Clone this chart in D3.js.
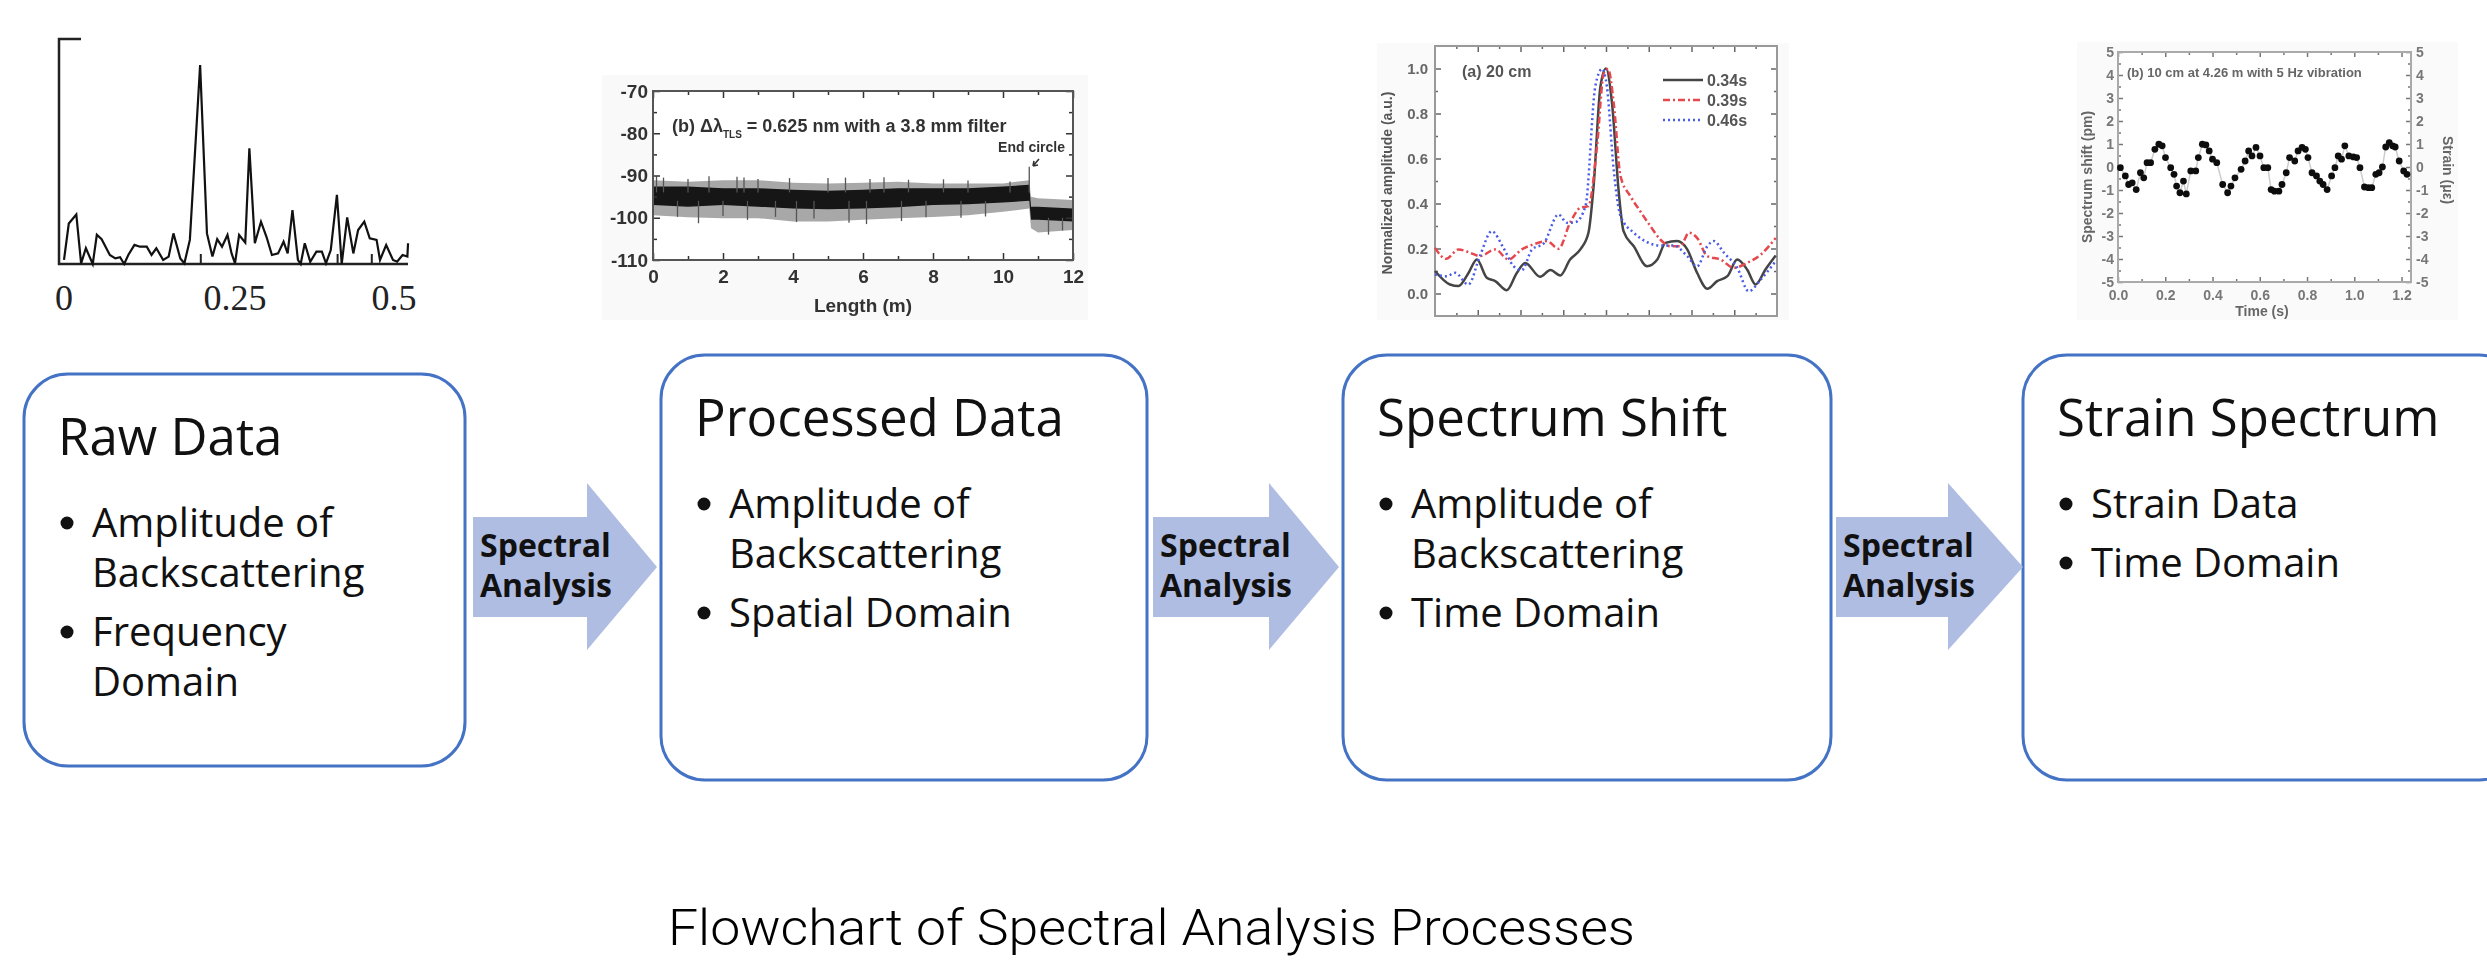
<!DOCTYPE html>
<html>
<head>
<meta charset="utf-8">
<script src="https://cdn.jsdelivr.net/npm/d3@7"></script>
<style>
  body { margin: 0; background: #fff; }
  svg { display: block; }
</style>
</head>
<body>
<div class="flow"></div>
<script>
// ---------- data ----------
// panel 1: raw spectrum, [frequency, relative amplitude]
var rawSpectrum = [[0,0.018],[0.007,0.18],[0.018,0.22],[0.025,0.003],[0.032,0.07],[0.042,0],[0.048,0.13],
  [0.055,0.11],[0.067,0.04],[0.075,0.025],[0.082,0.03],[0.088,0],[0.094,0.04],[0.103,0.085],[0.111,0.077],
  [0.121,0.077],[0.128,0.04],[0.135,0.07],[0.145,0.018],[0.153,0.033],[0.16,0.136],[0.17,0.025],[0.176,0.003],
  [0.184,0.107],[0.199,0.884],[0.209,0.136],[0.217,0.033],[0.224,0.11],[0.231,0.077],[0.239,0.129],[0.245,0.047],
  [0.25,0.003],[0.256,0.129],[0.265,0.095],[0.271,0.514],[0.279,0.092],[0.288,0.188],[0.296,0.121],[0.304,0.04],
  [0.313,0.047],[0.321,0.099],[0.327,0.047],[0.334,0.24],[0.342,0.018],[0.346,0],[0.352,0.092],[0.36,0.01],
  [0.369,0.055],[0.377,0.055],[0.383,0.003],[0.39,0.062],[0.399,0.307],[0.406,0],[0.414,0.207],[0.423,0.047],
  [0.43,0.151],[0.439,0.188],[0.447,0.114],[0.457,0.107],[0.462,0.018],[0.471,0.084],[0.481,0.018],[0.487,0.01],
  [0.495,0.04],[0.502,0.033],[0.503,0.092]];
var rawTickLabels = [0, 0.25, 0.5];
var rawMinorTicks = [0.2, 0.4, 0.45];

// panel 2: backscatter trace envelope (dB) along length (m)
var lenX     = [0, 1, 2, 3, 4, 5, 6, 7, 8, 9, 10, 10.75, 10.8, 11, 12];
var coreHi   = [-92.6,-92.6,-93.0,-93.0,-93.4,-93.6,-93.4,-93.0,-93.0,-93.0,-92.6,-92.2,-97.4,-97.4,-97.8];
var coreLo   = [-97.0,-97.4,-97.0,-97.4,-97.8,-98.0,-97.8,-97.5,-97.0,-96.8,-96.4,-96.0,-100.5,-100.5,-100.9];
var outerHi  = [-91.1,-91.5,-91.1,-91.1,-91.7,-91.9,-91.7,-91.5,-91.9,-91.9,-91.9,-91.1,-95.0,-95.4,-95.8];
var outerLo  = [-99.4,-99.9,-100.1,-100.1,-100.9,-100.9,-100.5,-100.1,-99.8,-99.4,-98.6,-97.8,-102.5,-103.5,-102.9];
var spikeX   = [0.1, 0.3, 0.7, 1.0, 1.3, 1.6, 2.0, 2.4, 2.6, 2.7, 3.0, 3.5, 3.9, 4.1, 4.6, 5.0, 5.5, 5.6,
  6.1, 6.2, 6.6, 7.1, 7.3, 7.8, 8.3, 8.8, 9.0, 9.5, 10.2, 10.75, 11.3, 11.7];
var spikeV   = [-90.2,-90.5,-99.8,-90.8,-101.3,-90.2,-99.6,-90.3,-90.5,-100.5,-90.8,-99.8,-90.6,-101,-100.2,
  -90.6,-90.5,-101.2,-101.5,-90.8,-90.4,-100.8,-91,-99.9,-90.9,-100,-91.2,-99.7,-91.4,-87.9,-104,-103];

// panel 3: normalized amplitude, [position, amplitude]
var shiftSeries = ["0.34s", "0.39s", "0.46s"];
var amp034 = [[0,0.10],[0.35,0.04],[0.55,0.033],[0.78,0.09],[0.98,0.151],[1.21,0.07],[1.41,0.055],[1.68,0.015],
  [1.91,0.09],[2.11,0.136],[2.46,0.074],[2.7,0.104],[2.93,0.08],[3.16,0.151],[3.4,0.196],[3.59,0.27],[3.71,0.477],
  [3.87,0.92],[4.0,1.0],[4.14,0.847],[4.3,0.447],[4.41,0.277],[4.65,0.21],[4.96,0.121],[5.2,0.151],[5.39,0.225],
  [5.66,0.233],[5.9,0.196],[6.13,0.092],[6.37,0.021],[6.6,0.055],[6.84,0.077],[7.07,0.151],[7.3,0.107],[7.5,0.04],
  [7.73,0.107],[7.97,0.169]];
var amp039 = [[0,0.203],[0.26,0.154],[0.55,0.196],[0.82,0.181],[1.05,0.166],[1.41,0.196],[1.72,0.151],[2.03,0.196],
  [2.3,0.218],[2.62,0.233],[2.89,0.199],[3.16,0.314],[3.4,0.381],[3.59,0.388],[3.79,0.655],[3.95,0.98],[4.05,0.998],
  [4.18,0.847],[4.34,0.521],[4.57,0.433],[4.8,0.366],[5.04,0.299],[5.27,0.24],[5.51,0.21],[5.74,0.21],[5.94,0.27],
  [6.13,0.247],[6.37,0.166],[6.68,0.151],[6.99,0.114],[7.3,0.136],[7.62,0.173],[7.97,0.247]];
var amp046 = [[0,0.084],[0.27,0.077],[0.47,0.092],[0.78,0.04],[1.05,0.166],[1.33,0.277],[1.6,0.203],[1.84,0.121],
  [2.03,0.104],[2.27,0.196],[2.54,0.222],[2.89,0.351],[3.09,0.314],[3.28,0.317],[3.52,0.388],[3.75,0.921],
  [3.91,0.998],[4.02,0.921],[4.18,0.551],[4.34,0.344],[4.65,0.27],[4.96,0.228],[5.27,0.213],[5.59,0.213],
  [5.9,0.166],[6.13,0.121],[6.37,0.21],[6.52,0.233],[6.76,0.181],[7.07,0.114],[7.34,0.01],[7.62,0.062],[7.97,0.144]];

// panel 4: spectrum shift (pm) over time (s)
var shiftPoints = [[0.010,-0.03],[0.031,-0.39],[0.045,-0.76],[0.060,-0.69],[0.077,-0.98],[0.095,-0.25],[0.109,-0.47],
  [0.123,0.19],[0.138,0.19],[0.156,0.77],[0.173,0.99],[0.187,0.92],[0.201,0.41],[0.223,-0.03],[0.237,-0.32],
  [0.248,-0.83],[0.262,-1.12],[0.277,-0.61],[0.289,-1.17],[0.308,-0.17],[0.329,-0.17],[0.340,0.41],[0.357,0.99],
  [0.372,0.96],[0.386,0.70],[0.400,0.34],[0.418,0.19],[0.443,-0.76],[0.464,-1.12],[0.478,-0.83],[0.495,-0.47],
  [0.521,-0.10],[0.538,0.26],[0.553,0.70],[0.567,0.48],[0.584,0.85],[0.601,0.48],[0.617,-0.03],[0.634,-0.03],
  [0.648,-0.98],[0.662,-1.05],[0.681,-1.05],[0.694,-0.76],[0.712,-0.25],[0.726,0.41],[0.748,0.26],[0.762,0.70],
  [0.779,0.85],[0.793,0.77],[0.804,0.41],[0.821,-0.25],[0.840,-0.39],[0.854,-0.61],[0.868,-0.76],[0.885,-0.98],
  [0.904,-0.39],[0.918,-0.03],[0.932,0.48],[0.946,0.34],[0.960,0.92],[0.977,0.48],[0.996,0.44],[1.010,0.41],
  [1.024,-0.03],[1.043,-0.87],[1.060,-0.90],[1.074,-0.90],[1.091,-0.32],[1.105,-0.25],[1.119,0],[1.133,0.87],
  [1.148,1.06],[1.162,0.92],[1.173,0.87],[1.190,0.26],[1.209,-0.17],[1.223,-0.32]];

// flowchart text
var boxTitles = ["Raw Data", "Processed Data", "Spectrum Shift", "Strain Spectrum"];
var boxBullets = [
  [["Amplitude of", "Backscattering"], ["Frequency", "Domain"]],
  [["Amplitude of", "Backscattering"], ["Spatial Domain"]],
  [["Amplitude of", "Backscattering"], ["Time Domain"]],
  [["Strain Data"], ["Time Domain"]]
];
var arrowLabel = ["Spectral", "Analysis"];
var chartTitle = "Flowchart of Spectral Analysis Processes";

// ---------- drawing ----------
var width = 2487, height = 969;
var svg = d3.select(".flow").append("svg")
  .attr("width", width)
  .attr("height", height);

var defs = svg.append("defs");
defs.append("filter").attr("id", "soft")
  .append("feGaussianBlur").attr("stdDeviation", 0.6);

var figFont = "'Liberation Sans', Arial, sans-serif";
var boxFont = "'Open Sans', sans-serif";
var plain = function(d) { return String(d); };

// inward ticks on all four sides of a framed plot
function frameAxes(g, x, y, o) {
  var b = y.range()[0], t = y.range()[1];
  var l = x.range()[0], r = x.range()[1];
  function style(sel) {
    sel.select(".domain").remove();
    sel.selectAll("line").attr("stroke", o.color).attr("stroke-width", 1.5);
    sel.selectAll("text").attr("fill", o.color).style("font-family", figFont)
      .style("font-weight", "bold").style("font-size", o.fontSize + "px");
  }
  var none = function() { return ""; };
  // minor ticks
  g.append("g").attr("transform", "translate(0," + b + ")")
    .call(d3.axisBottom(x).tickValues(o.xMinor).tickSize(-o.minLen).tickFormat(none)).call(style);
  g.append("g").attr("transform", "translate(0," + t + ")")
    .call(d3.axisTop(x).tickValues(o.xMinor).tickSize(-o.minLen).tickFormat(none)).call(style);
  g.append("g").attr("transform", "translate(" + l + ",0)")
    .call(d3.axisLeft(y).tickValues(o.yMinor).tickSize(-o.minLen).tickFormat(none)).call(style);
  g.append("g").attr("transform", "translate(" + r + ",0)")
    .call(d3.axisRight(y).tickValues(o.yMinor).tickSize(-o.minLen).tickFormat(none)).call(style);
  // major ticks
  g.append("g").attr("transform", "translate(0," + b + ")")
    .call(d3.axisBottom(x).tickValues(o.xMajor).tickSize(-o.majLen).tickPadding(o.xPad)
      .tickFormat(o.xFmt || none)).call(style);
  g.append("g").attr("transform", "translate(0," + t + ")")
    .call(d3.axisTop(x).tickValues(o.xMajor).tickSize(-o.majLen).tickFormat(none)).call(style);
  g.append("g").attr("transform", "translate(" + l + ",0)")
    .call(d3.axisLeft(y).tickValues(o.yMajor).tickSize(-o.majLen).tickPadding(o.yPad)
      .tickFormat(o.yFmt || none)).call(style);
  g.append("g").attr("transform", "translate(" + r + ",0)")
    .call(d3.axisRight(y).tickValues(o.yMajor).tickSize(-o.majLen).tickPadding(o.yPad2 || 4)
      .tickFormat(o.yFmtRight || none)).call(style);
  g.append("rect").attr("x", l).attr("y", t).attr("width", r - l).attr("height", b - t)
    .attr("fill", "none").attr("stroke", o.frame).attr("stroke-width", o.frameWidth);
}

function rawChart() {
  var g = svg.append("g");
  var x = d3.scaleLinear().domain([0, 0.5]).range([64, 406]);
  var y = d3.scaleLinear().domain([0, 1]).range([264, 39]);

  g.append("path")
    .attr("d", "M" + (x(0) + 17) + "," + y(1) + "H" + (x(0) - 5) + "V" + y(0) + "H" + (x(0.5) + 2))
    .attr("fill", "none").attr("stroke", "#222").attr("stroke-width", 2.5);

  g.selectAll(".mt").data(rawMinorTicks).enter().append("line")
    .attr("x1", function(d) { return x(d); }).attr("x2", function(d) { return x(d); })
    .attr("y1", y(0)).attr("y2", y(0) - 10)
    .attr("stroke", "#222").attr("stroke-width", 2);

  g.append("path").datum(rawSpectrum)
    .attr("d", d3.line().x(function(d) { return x(d[0]); }).y(function(d) { return y(d[1]); }))
    .attr("fill", "none").attr("stroke", "#111").attr("stroke-width", 2.2)
    .attr("stroke-linejoin", "miter");

  g.selectAll(".tl").data(rawTickLabels).enter().append("text")
    .attr("x", function(d, i) { return x(d) - (i === 2 ? 12 : 0); })
    .attr("y", 310)
    .attr("text-anchor", "middle")
    .style("font-family", "'Liberation Serif', 'DejaVu Serif', serif")
    .style("font-size", "36px").attr("fill", "#222")
    .text(function(d) { return d; });
}

function processedChart() {
  var g = svg.append("g").attr("filter", "url(#soft)");
  g.append("rect").attr("x", 602).attr("y", 75).attr("width", 486).attr("height", 245).attr("fill", "#f9f9f9");
  var x = d3.scaleLinear().domain([0, 12]).range([653, 1073]);
  var y = d3.scaleLinear().domain([-110, -70]).range([260, 91]);
  g.append("rect").attr("x", 653).attr("y", 91).attr("width", 420).attr("height", 169).attr("fill", "#fff");

  var env = lenX.map(function(v, i) {
    return { x: v, ch: coreHi[i], cl: coreLo[i], oh: outerHi[i], ol: outerLo[i] };
  });
  g.append("path").datum(env)
    .attr("d", d3.area().x(function(d) { return x(d.x); })
      .y0(function(d) { return y(d.ol); }).y1(function(d) { return y(d.oh); }))
    .attr("fill", "#a8a8a8");
  g.append("path").datum(env)
    .attr("d", d3.area().x(function(d) { return x(d.x); })
      .y0(function(d) { return y(d.cl); }).y1(function(d) { return y(d.ch); }))
    .attr("fill", "#151515");
  g.selectAll(".sp").data(spikeX).enter().append("line")
    .attr("x1", function(d) { return x(d); }).attr("x2", function(d) { return x(d); })
    .attr("y1", function(d, i) { return y(spikeV[i] > -95 ? -94 : (d > 10.8 ? -100 : -96)); })
    .attr("y2", function(d, i) { return y(spikeV[i]); })
    .attr("stroke", "#555").attr("stroke-width", 1.3);

  frameAxes(g, x, y, {
    xMajor: d3.range(0, 13, 2), xMinor: d3.range(1, 12, 2),
    yMajor: d3.range(-110, -69, 10), yMinor: d3.range(-105, -70, 10),
    xFmt: plain, yFmt: plain,
    majLen: 7, minLen: 4, xPad: 10, yPad: 5,
    color: "#333", fontSize: 19, frame: "#555", frameWidth: 2
  });

  g.append("text").attr("x", 863).attr("y", 312).attr("text-anchor", "middle")
    .style("font-family", figFont).style("font-weight", "bold").style("font-size", "19px")
    .attr("fill", "#333").text("Length (m)");

  var ann = g.append("text").attr("x", 672).attr("y", 132)
    .style("font-family", figFont).style("font-weight", "bold").style("font-size", "18px").attr("fill", "#333");
  ann.append("tspan").text("(b) \u0394\u03bb");
  ann.append("tspan").attr("dy", 6).style("font-size", "10px").text("TLS");
  ann.append("tspan").attr("dy", -6).text(" = 0.625 nm with a 3.8 mm filter");

  g.append("text").attr("x", 1065).attr("y", 152).attr("text-anchor", "end")
    .style("font-family", figFont).style("font-weight", "bold").style("font-size", "14px")
    .attr("fill", "#333").text("End circle");
  g.append("path").attr("d", "M1039,159 L1033,166 M1033,166 l1,-5 M1033,166 l5,-1")
    .attr("stroke", "#333").attr("stroke-width", 1.6).attr("fill", "none");
}

function shiftChart() {
  var g = svg.append("g").attr("filter", "url(#soft)");
  g.append("rect").attr("x", 1377).attr("y", 43).attr("width", 412).attr("height", 277).attr("fill", "#fafafa");
  var x = d3.scaleLinear().domain([0, 8]).range([1435, 1777]);
  var y = d3.scaleLinear().domain([-0.1, 1.1]).range([316, 46]);
  g.append("rect").attr("x", 1435).attr("y", 46).attr("width", 342).attr("height", 270).attr("fill", "#fff");

  frameAxes(g, x, y, {
    xMajor: d3.range(1, 8), xMinor: d3.range(0.5, 8, 1),
    yMajor: [0, 0.2, 0.4, 0.6, 0.8, 1.0], yMinor: [0.1, 0.3, 0.5, 0.7, 0.9],
    yFmt: d3.format(".1f"),
    majLen: 6, minLen: 3, xPad: 8, yPad: 7,
    color: "#666", fontSize: 15, frame: "#999", frameWidth: 2
  });

  var styles = [
    { stroke: "#444", dash: null },
    { stroke: "#e5484d", dash: "7,3,2,3" },
    { stroke: "#4a5be8", dash: "2,3" }
  ];
  var line = d3.line().curve(d3.curveMonotoneX)
    .x(function(d) { return x(d[0]); }).y(function(d) { return y(d[1]); });
  [amp034, amp039, amp046].forEach(function(s, i) {
    g.append("path").datum(s).attr("d", line)
      .attr("fill", "none").attr("stroke", styles[i].stroke).attr("stroke-width", 2.5)
      .attr("stroke-dasharray", styles[i].dash);
  });

  var leg = g.selectAll(".lg").data(shiftSeries).enter().append("g")
    .attr("transform", function(d, i) { return "translate(1663," + (80 + i * 20) + ")"; });
  leg.append("line").attr("x1", 0).attr("x2", 40)
    .attr("stroke", function(d, i) { return styles[i].stroke; })
    .attr("stroke-dasharray", function(d, i) { return styles[i].dash; })
    .attr("stroke-width", 2.5);
  leg.append("text").attr("x", 44).attr("dy", "0.35em")
    .style("font-family", figFont).style("font-weight", "bold").style("font-size", "16px")
    .attr("fill", "#555").text(function(d) { return d; });

  g.append("text").attr("x", 1462).attr("y", 77)
    .style("font-family", figFont).style("font-weight", "bold").style("font-size", "16px")
    .attr("fill", "#555").text("(a) 20 cm");
  g.append("text").attr("transform", "translate(1392,183) rotate(-90)").attr("text-anchor", "middle")
    .style("font-family", figFont).style("font-weight", "bold").style("font-size", "14px")
    .attr("fill", "#555").text("Normalized amplitude (a.u.)");
}

function strainChart() {
  var g = svg.append("g").attr("filter", "url(#soft)");
  g.append("rect").attr("x", 2077).attr("y", 42).attr("width", 381).attr("height", 278).attr("fill", "#fafafa");
  var x = d3.scaleLinear().domain([0, 1.24]).range([2118, 2411]);
  var y = d3.scaleLinear().domain([-5, 5]).range([282, 52]);
  g.append("rect").attr("x", 2118).attr("y", 52).attr("width", 293).attr("height", 230).attr("fill", "#fff");

  frameAxes(g, x, y, {
    xMajor: [0, 0.2, 0.4, 0.6, 0.8, 1.0, 1.2], xMinor: [0.1, 0.3, 0.5, 0.7, 0.9, 1.1],
    yMajor: d3.range(-5, 6), yMinor: d3.range(-4.5, 5, 1),
    xFmt: function(d) { return d.toFixed(1); }, yFmt: plain, yFmtRight: plain,
    majLen: 5, minLen: 3, xPad: 8, yPad: 4, yPad2: 5,
    color: "#777", fontSize: 14, frame: "#aaa", frameWidth: 2
  });

  g.append("path").datum(shiftPoints)
    .attr("d", d3.line().x(function(d) { return x(d[0]); }).y(function(d) { return y(d[1]); }))
    .attr("fill", "none").attr("stroke", "#ccc").attr("stroke-width", 1.5);
  g.selectAll(".pt").data(shiftPoints).enter().append("circle")
    .attr("cx", function(d) { return x(d[0]); }).attr("cy", function(d) { return y(d[1]); })
    .attr("r", 3.4).attr("fill", "#111");

  var lab = function(sel, size) {
    sel.style("font-family", figFont).style("font-weight", "bold").style("font-size", size + "px").attr("fill", "#666");
  };
  g.append("text").attr("x", 2127).attr("y", 77).text("(b) 10 cm at 4.26 m with 5 Hz vibration").call(lab, 13);
  g.append("text").attr("x", 2262).attr("y", 316).attr("text-anchor", "middle").text("Time (s)").call(lab, 14);
  g.append("text").attr("transform", "translate(2092,177) rotate(-90)").attr("text-anchor", "middle")
    .text("Spectrum shift (pm)").call(lab, 14);
  g.append("text").attr("transform", "translate(2443,170) rotate(90)").attr("text-anchor", "middle")
    .text("Strain (\u03bc\u03b5)").call(lab, 14);
}

function flowBoxes() {
  var boxes = [
    { x: 24, y: 374, w: 441, h: 392 },
    { x: 661, y: 355, w: 486, h: 425 },
    { x: 1343, y: 355, w: 488, h: 425 },
    { x: 2023, y: 355, w: 500, h: 425 }
  ];
  var g = svg.append("g");
  var box = g.selectAll(".box").data(boxes).enter().append("g")
    .attr("transform", function(d) { return "translate(" + d.x + "," + d.y + ")"; });
  box.append("rect")
    .attr("width", function(d) { return d.w; }).attr("height", function(d) { return d.h; })
    .attr("rx", 44).attr("ry", 44)
    .attr("fill", "#fff").attr("stroke", "#4472c4").attr("stroke-width", 3);
  box.append("text").attr("x", 34).attr("y", 81)
    .style("font-family", boxFont).style("font-size", "51px").attr("fill", "#111")
    .text(function(d, i) { return boxTitles[i]; });

  box.each(function(d, i) {
    var yb = 163;
    var gb = d3.select(this);
    boxBullets[i].forEach(function(lines) {
      gb.append("circle").attr("cx", 43).attr("cy", yb - 14).attr("r", 6.5).attr("fill", "#111");
      lines.forEach(function(t, k) {
        gb.append("text").attr("x", 68).attr("y", yb + k * 50)
          .style("font-family", boxFont).style("font-size", "40px").attr("fill", "#111").text(t);
      });
      yb += (lines.length - 1) * 50 + 59;
    });
  });

  var arrows = [[473, 587, 657], [1153, 1269, 1339], [1836, 1948, 2023]];
  var arr = g.selectAll(".arr").data(arrows).enter().append("g");
  arr.append("path")
    .attr("d", function(d) {
      return "M" + d[0] + ",517 H" + d[1] + " V483 L" + d[2] + ",567 L" + d[1] + ",650 V617 H" + d[0] + " Z";
    })
    .attr("fill", "#b0bde2");
  arr.selectAll("text").data(function(d) { return arrowLabel.map(function(t) { return [d[0], t]; }); })
    .enter().append("text")
    .attr("x", function(d) { return d[0] + 7; })
    .attr("y", function(d, k) { return 557 + k * 40; })
    .style("font-family", boxFont).style("font-weight", "bold").style("font-size", "32px").attr("fill", "#111")
    .text(function(d) { return d[1]; });

  svg.append("text").attr("x", 668).attr("y", 945)
    .attr("textLength", 967).attr("lengthAdjust", "spacingAndGlyphs")
    .style("font-family", "Roboto, sans-serif").style("font-weight", 300).style("font-size", "50px")
    .attr("fill", "#000").text(chartTitle);
}

rawChart();
processedChart();
shiftChart();
strainChart();
flowBoxes();
</script>
</body>
</html>
